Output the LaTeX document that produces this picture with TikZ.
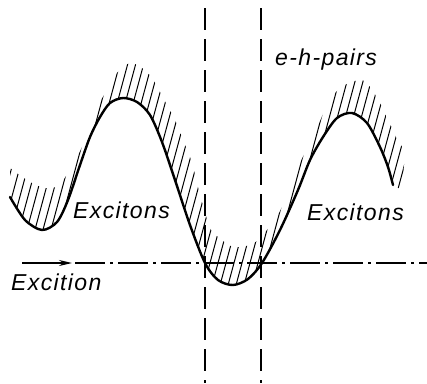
\documentclass[tikz,border=0pt]{standalone}
\usepackage{fontspec}
\newfontfamily\gost{Liberation Sans}[LetterSpace=6]
\usetikzlibrary{arrows.meta}
\tikzset{
  curve/.style={line width=2.4pt, line join=round, line cap=round},
  hatch/.style={line width=1pt},
  vdash/.style={line width=1.2pt, dash pattern=on 22pt off 9pt},
  axisline/.style={line width=1.1pt, dash pattern=on 30pt off 5pt on 3pt off 5pt},
  lbl/.style={font=\gost\itshape\fontsize{23}{26}\selectfont, inner sep=0pt, anchor=base west}
}
\begin{document}
\begin{tikzpicture}[x=1pt,y=-1pt]
\useasboundingbox[fill=white] (0,0) rectangle (427,383);
% hatching clipped between curve and upper boundary
\begin{scope}
\clip plot[smooth, tension=0.5] coordinates {(10,197) (25,220) (42,230) (57,222) (68,200) (80,165) (90,137) (100,117) (110,103) (123,98) (137,102) (150,115) (162,142) (175,180) (190,225) (205,263) (218,280) (233,285) (248,279) (262,263) (280,230) (298,190) (310,160) (323,137) (337,118) (352,113) (367,123) (380,147) (388,167) (393,185)}
  -- (402,190) -- plot[smooth, tension=0.5] coordinates {(405,152) (397,138) (388,120) (380,103) (370,87) (362,80) (352,82) (340,88) (328,103) (317,128) (300,163) (288,193) (277,217) (267,230) (258,240) (250,245) (233,247) (218,237) (210,228) (200,195) (192,163) (183,140) (175,120) (168,107) (160,92) (152,78) (142,68) (130,63) (117,73) (107,90) (93,115) (82,147) (68,173) (58,186) (45,188) (30,182) (10,168)} -- cycle;
\foreach \i in {-10,...,56} {
  \draw[hatch] (\i*8,300) -- (\i*8+70.2,40);
}
\end{scope}
% main curve
\draw[curve] plot[smooth, tension=0.5] coordinates {(10,197) (25,220) (42,230) (57,222) (68,200) (80,165) (90,137) (100,117) (110,103) (123,98) (137,102) (150,115) (162,142) (175,180) (190,225) (205,263) (218,280) (233,285) (248,279) (262,263) (280,230) (298,190) (310,160) (323,137) (337,118) (352,113) (367,123) (380,147) (388,167) (393,185)};
% vertical dashed lines
\coordinate (v1t) at (205,8); \coordinate (v1b) at (205,383);
\coordinate (v2t) at (261,8); \coordinate (v2b) at (261,383);
\draw[vdash] (v1t) -- (v1b);
\draw[vdash] (v2t) -- (v2b);
% horizontal axis with arrow
\coordinate (a0) at (22,263); \coordinate (a1) at (72,263); \coordinate (a2) at (427,263);
\draw[line width=1.8pt, -{Stealth[length=13pt,width=6pt]}] (a0) -- (a1);
\draw[axisline] (a1) ++(3,0) -- (a2);
% labels
\node[lbl] (exl) at (73,218) {Excitons};
\node[lbl] (exr) at (307,220) {Excitons};
\node[lbl] (exc) at (11,290) {Excition};
\node[lbl] (eh) at (275,65) {e-h-pairs};
\end{tikzpicture}
\end{document}
